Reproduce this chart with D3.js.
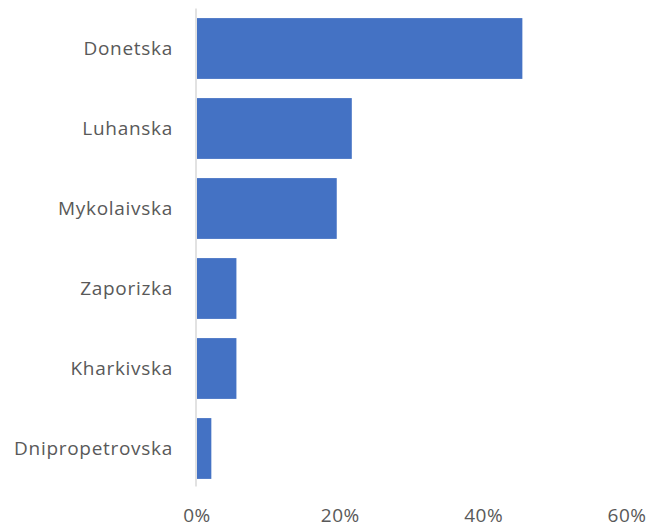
<!DOCTYPE html>
<html>
<head>
<meta charset="utf-8">
<script src="https://cdn.jsdelivr.net/npm/d3@7"></script>
<style>
  body { margin: 0; background: #fff; }
  svg text { font-family: "Open Sans", sans-serif; fill: #595959; }
</style>
</head>
<body>
<div id="chart"></div>
<script>
// oblasts, top to bottom
const regions = ["Donetska", "Luhanska", "Mykolaivska", "Zaporizka", "Kharkivska", "Dnipropetrovska"];
// share, %
const shares = [45.4, 21.6, 19.5, 5.5, 5.5, 2.0];
const xTicks = [0, 20, 40, 60];

const data = regions.map((r, i) => ({ region: r, value: shares[i] }));

const width = 652, height = 529;
const margin = {top: 8.5, right: 25, bottom: 40.5, left: 197};

const svg = d3.select("#chart")
  .append("svg")
  .attr("width", width)
  .attr("height", height);

const x = d3.scaleLinear()
  .domain([0, 60])
  .range([margin.left, width - margin.right]);

const y = d3.scaleBand()
  .domain(regions)
  .range([margin.top, height - margin.bottom])
  .paddingInner(0.24)
  .paddingOuter(0.12);

// bars
svg.selectAll("rect.bar")
  .data(data)
  .enter()
  .append("rect")
  .attr("class", "bar")
  .attr("x", x(0))
  .attr("y", d => y(d.region))
  .attr("width", d => x(d.value) - x(0))
  .attr("height", y.bandwidth())
  .attr("fill", "#4472c4");

// vertical axis line
svg.append("line")
  .attr("x1", x(0) - 1).attr("x2", x(0) - 1)
  .attr("y1", margin.top).attr("y2", height - margin.bottom - 2)
  .attr("stroke", "#d9d9d9")
  .attr("stroke-width", 1.5);

// category labels
svg.selectAll("text.cat")
  .data(regions)
  .enter()
  .append("text")
  .attr("class", "cat")
  .attr("x", x(0) - 24)
  .attr("y", d => y(d) + y.bandwidth() / 2)
  .attr("dy", "0.35em")
  .attr("text-anchor", "end")
  .style("font-size", "19px")
  .style("letter-spacing", "0.7px")
  .text(d => d);

// x tick labels
svg.selectAll("text.tick")
  .data(xTicks)
  .enter()
  .append("text")
  .attr("class", "tick")
  .attr("x", d => x(d))
  .attr("y", 522)
  .attr("text-anchor", "middle")
  .style("font-size", "19px")
  .style("letter-spacing", "0.5px")
  .text(d => d + "%");
</script>
</body>
</html>
